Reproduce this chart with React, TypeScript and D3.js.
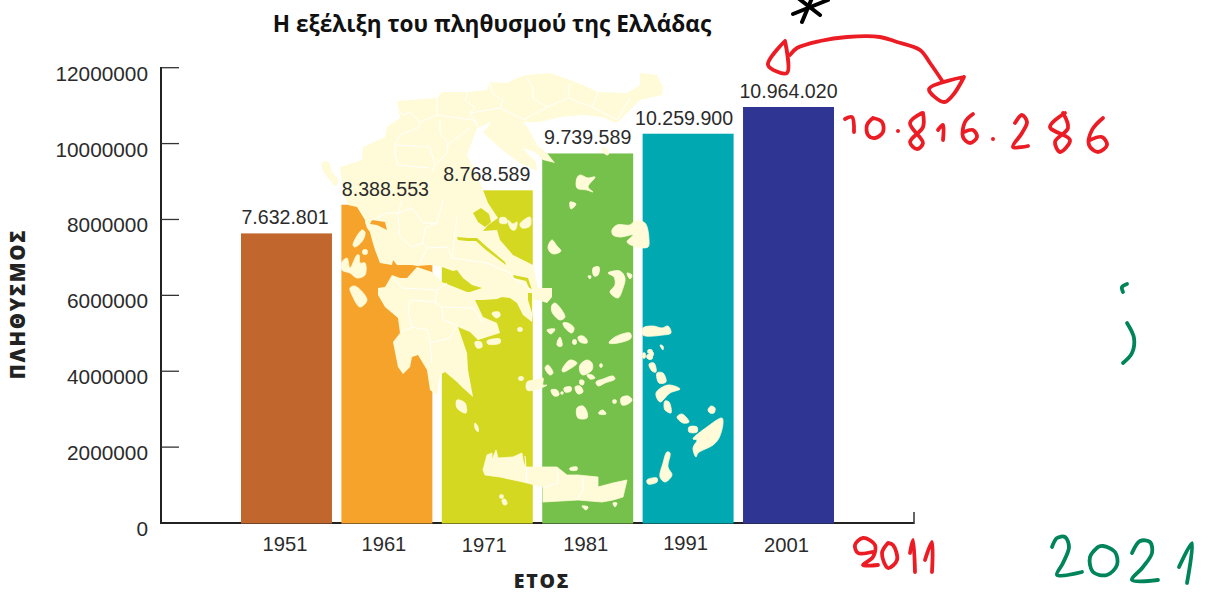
import React from "react";
import * as d3 from "d3";

type P = [number, number];

const years = ["1951", "1961", "1971", "1981", "1991", "2001"];
const population = [7632801, 8388553, 8768589, 9739589, 10259900, 10964020];
const valueLabels = ["7.632.801", "8.388.553", "8.768.589", "9.739.589", "10.259.900", "10.964.020"];
const barColors = ["#C1672E", "#F5A32A", "#D5D821", "#76C14B", "#00A9B1", "#2E3593"];
const yTicks = [0, 2000000, 4000000, 6000000, 8000000, 10000000, 12000000];
const yearLabelDy = [0, 0, 1, 0, -1, 1];
const yearLabelDx = [-1.5, -3, -3, -2, -2.5, -2];
const valueLabelDx = [-1.5, -1.5, -0.5, 0, -4, 0];

const mainland: P[] = [[340,167],[343,190],[348,205],[357,207],[365,220],[365,222],[367,228],[370,232],[372,240],[375,250],[380,263],[392,265],[393,260],[397,265],[412,265],[417,266],[430,265],[442,267],[453,271],[457,270],[463,278],[472,285],[482,288],[470,292],[467,293],[483,300],[497,299],[502,297],[510,298],[517,303],[523,315],[532,322],[534,300],[538,300],[547,303],[552,297],[552,288],[538,288],[537,283],[533,265],[513,255],[500,240],[497,230],[483,231],[488,225],[498,218],[488,203],[483,190],[480,182],[467,155],[477,128],[492,122],[483,132],[491,140],[505,152],[520,163],[537,171],[536,162],[527,153],[523,148],[535,152],[543,160],[555,163],[547,153],[537,145],[528,128],[523,122],[540,122],[560,117],[583,115],[603,117],[613,122],[618,122],[632,108],[640,100],[662,95],[663,87],[657,75],[640,73],[640,85],[627,93],[598,92],[583,85],[570,80],[550,73],[527,75],[517,78],[507,83],[490,82],[487,90],[467,92],[442,92],[437,98],[397,101],[400,118],[387,127],[385,137],[363,147],[362,160]];
const ambracianGulf: P[] = [[372,220],[385,222],[387,230],[377,225],[370,224]];
const pagaseticGulf: P[] = [[473,213],[481,208],[489,214],[491,222],[485,227],[478,222]];
const euboeaChannelNorth: P[] = [[457,237],[468,238],[477,238],[487,247],[505,262],[506,265],[486,250],[476,241],[467,241],[458,240]];
const euboeaChannelMiddle: P[] = [[513,275],[528,278],[532,290],[529,288],[526,281],[514,278]];
const euboeaChannelSouth: P[] = [[528,293],[532,293],[532,313],[528,300]];
const peloponnese: P[] = [[417,267],[432,272],[442,282],[457,288],[467,292],[480,292],[483,300],[475,300],[483,317],[497,323],[500,333],[478,340],[470,332],[458,327],[467,353],[468,370],[473,397],[463,388],[457,382],[445,372],[440,375],[437,395],[430,390],[427,370],[418,355],[412,357],[410,367],[403,374],[398,367],[393,342],[400,333],[398,318],[385,307],[378,295],[378,288],[385,287],[392,275],[400,278],[407,278]];
const crete: P[] = [[483,470],[487,455],[492,453],[492,460],[496,450],[498,458],[513,457],[522,453],[523,460],[525,467],[557,467],[567,475],[578,475],[598,477],[598,487],[613,483],[627,480],[623,497],[613,500],[602,502],[578,500],[543,502],[543,487],[523,482],[500,477],[485,475]];
const islands: P[][] = [
  [[322,163],[328,162],[332,172],[338,180],[336,186],[330,180],[324,172]],
  [[353,245],[362,230],[365,232],[363,240],[355,247]],
  [[363,250],[367,250],[367,254],[363,254]],
  [[342,262],[347,258],[350,268],[357,255],[359,255],[360,263],[365,263],[365,275],[357,278],[350,273],[342,270]],
  [[350,288],[355,286],[367,300],[360,307],[352,295]],
  [[500,218],[506,218],[507,223],[500,223]],
  [[508,220],[513,224],[517,222],[515,230],[511,229]],
  [[520,224],[530,217],[530,226],[522,228]],
  [[475,342],[481,342],[482,347],[477,348]],
  [[487,341],[500,339],[500,343],[488,344]],
  [[492,313],[499,312],[500,316],[496,318]],
  [[518,328],[522,328],[522,331],[518,331]],
  [[457,400],[465,403],[466,413],[457,408]],
  [[475,423],[478,427],[478,432],[475,428]],
  [[577,178],[580,175],[588,178],[595,177],[588,187],[593,192],[587,190],[577,188]],
  [[570,202],[576,204],[571,209]],
  [[612,230],[617,225],[630,225],[635,221],[645,223],[649,240],[648,247],[637,247],[627,242],[633,235],[620,237],[613,235]],
  [[548,247],[552,240],[557,246],[561,251],[554,254],[550,252]],
  [[593,268],[599,267],[598,275],[594,276]],
  [[588,276],[591,276],[590,279]],
  [[608,273],[620,271],[625,278],[623,288],[618,298],[610,292],[615,285],[614,277]],
  [[627,273],[632,275],[630,279]],
  [[552,305],[555,303],[565,317],[560,320],[552,312]],
  [[563,323],[568,323],[574,328],[572,333],[565,328]],
  [[547,330],[555,329],[551,334]],
  [[557,345],[560,337],[562,346]],
  [[573,340],[576,340],[576,344],[573,344]],
  [[578,337],[583,336],[587,340],[587,343],[580,342]],
  [[609,343],[615,337],[630,333],[631,338],[618,343]],
  [[643,328],[653,326],[662,328],[668,326],[671,333],[663,335],[643,335]],
  [[660,345],[663,346],[663,350]],
  [[650,352],[653,352],[653,356],[650,356]],
  [[648,355],[652,355],[652,359],[648,359]],
  [[558,340],[561,340],[561,346],[558,346]],
  [[519,377],[523,377],[523,380],[519,380]],
  [[527,382],[535,380],[543,378],[543,385],[547,385],[535,390],[527,390]],
  [[545,368],[548,365],[553,373],[550,375]],
  [[562,370],[570,360],[577,363],[568,370],[563,372]],
  [[580,365],[587,360],[592,363],[592,370],[583,375],[580,372]],
  [[600,364],[602,364],[602,367],[600,367]],
  [[587,375],[592,375],[595,378],[590,379]],
  [[596,382],[603,379],[613,376],[615,379],[605,383],[598,386]],
  [[580,380],[584,381],[583,385],[580,384]],
  [[575,387],[580,386],[583,392],[578,394]],
  [[564,388],[571,387],[571,391],[565,392]],
  [[551,390],[557,390],[559,395],[554,396]],
  [[561,392],[563,392],[563,394],[561,394]],
  [[613,400],[616,400],[616,403],[613,403]],
  [[621,398],[628,396],[632,400],[628,404],[622,405]],
  [[577,408],[583,406],[587,412],[587,418],[578,418]],
  [[599,412],[603,410],[606,414],[599,414]],
  [[500,495],[503,495],[503,498],[500,498]],
  [[502,500],[505,499],[507,504],[504,505]],
  [[570,468],[577,467],[577,470],[570,470]],
  [[582,506],[588,507],[586,510]],
  [[613,503],[617,503],[615,507]],
  [[643,353],[645,353],[645,358],[643,358]],
  [[648,350],[652,350],[652,353],[648,353]],
  [[647,355],[652,355],[652,358],[647,358]],
  [[649,364],[654,363],[656,372],[652,371]],
  [[657,373],[663,373],[666,382],[659,383]],
  [[656,393],[668,385],[680,389],[670,393],[660,402]],
  [[665,401],[669,402],[671,413],[665,410],[664,405]],
  [[677,417],[682,414],[689,422],[683,423]],
  [[711,406],[715,408],[714,413],[710,413],[708,410]],
  [[689,427],[697,427],[697,432],[689,432]],
  [[693,439],[707,427],[722,418],[723,423],[719,438],[713,445],[698,453],[696,457],[693,448],[697,440]],
  [[667,452],[670,453],[668,467],[672,475],[665,482],[660,477],[663,463]],
  [[647,480],[657,478],[657,482],[648,484]],
  [[602,147],[608,150],[608,155],[604,153]],
];
const prefectureBorders: P[][] = [
  [[437,98],[437,115],[420,122],[410,112],[403,115],[399,110]],
  [[420,122],[418,128],[400,135],[395,145],[430,147],[435,165],[432,172]],
  [[395,145],[395,155],[398,165],[430,168]],
  [[437,115],[473,120],[478,127]],
  [[440,120],[440,133],[448,142],[447,153],[435,165]],
  [[448,145],[470,128]],
  [[468,92],[465,100],[475,108],[470,113],[478,125]],
  [[490,83],[492,93],[503,100],[500,108],[525,120]],
  [[470,113],[500,108]],
  [[527,78],[533,88],[533,98],[547,107],[568,98],[570,83]],
  [[568,98],[592,107],[598,93]],
  [[592,107],[617,120]],
  [[617,120],[630,98]],
  [[547,107],[523,120]],
  [[372,220],[387,213],[398,213],[400,237],[412,247],[423,243],[425,228],[437,223],[443,200]],
  [[398,213],[412,208],[423,223],[437,223]],
  [[402,200],[398,213]],
  [[423,243],[427,248],[420,263]],
  [[427,248],[447,247],[452,258],[455,233],[457,217]],
  [[452,258],[487,263],[510,273],[513,278],[532,290]],
  [[402,288],[437,290],[447,283]],
  [[402,288],[392,277]],
  [[437,290],[435,302],[410,300],[408,312],[412,327],[400,332]],
  [[435,302],[442,307],[443,320],[457,325],[450,338],[430,343],[428,330],[412,327]],
  [[442,307],[473,308],[483,323]],
  [[430,343],[432,363]],
  [[525,456],[527,482]],
  [[557,468],[558,483],[543,488]],
  [[583,478],[583,490],[577,500]],
];

const redStrokes: P[][] = [
  [[790,55],[797,48],[820,41],[847,37],[880,37],[897,42],[920,50],[930,63],[943,82]],
  [[785,41],[768,65],[787,73],[785,41]],
  [[964,77],[929,89],[944,102],[953,95],[964,77]],
  [[845,119],[852,117],[854,132]],
  [[873,118],[867,125],[868,135],[875,138],[883,132],[882,122],[873,118]],
  [[922,113],[910,123],[923,143],[917,149],[910,142],[923,127],[923,113]],
  [[938,130],[943,125],[943,140]],
  [[973,114],[965,122],[963,137],[970,143],[977,137],[973,130],[964,132]],
  [[1015,123],[1022,115],[1027,122],[1022,133],[1013,147],[1028,146]],
  [[1065,113],[1050,127],[1070,140],[1060,152],[1055,142],[1068,128],[1063,113]],
  [[1103,118],[1092,130],[1089,145],[1098,152],[1107,145],[1102,137],[1090,140]],
  [[872,552],[858,553],[855,545],[863,538],[875,545],[873,557],[863,565],[878,565]],
  [[888,543],[882,553],[888,568],[897,560],[893,545],[888,543]],
  [[910,553],[913,540],[915,572]],
  [[925,560],[932,542],[932,572]],
];
const redDots: P[] = [[898,131],[993,139]];
const greenStrokes: P[][] = [
  [[1127,284],[1122,287],[1123,292]],
  [[1127,323],[1134,338],[1132,353],[1123,363]],
  [[1052,547],[1057,538],[1065,537],[1069,547],[1063,563],[1057,575],[1082,572]],
  [[1098,547],[1090,557],[1093,572],[1107,575],[1117,565],[1115,552],[1103,546],[1098,547]],
  [[1132,553],[1140,541],[1150,542],[1152,553],[1143,567],[1132,580],[1158,580]],
  [[1179,567],[1192,543],[1187,583]],
];
const asteriskStrokes: P[][] = [
  [[798,-2],[820,15]],
  [[828,0],[793,14]],
  [[812,-2],[802,22]],
];

const y = d3.scaleLinear().domain([0, 12000000]).range([523, 67.7]);
const x = d3.scaleBand<string>().domain(years).range([241, 834]).paddingInner(0.094).paddingOuter(0);
const poly = d3.line<P>().curve(d3.curveLinearClosed);
const blob = d3.line<P>().curve(d3.curveCatmullRomClosed.alpha(0.5));
const seg = d3.line<P>().curve(d3.curveLinear);
const hand = d3.line<P>().curve(d3.curveCatmullRom.alpha(0.5));

const SANS = "'Liberation Sans', Arial, sans-serif";
const CREAM = "#FFFBD8";

export default function App() {
  const mainD = [mainland, ambracianGulf, pagaseticGulf, euboeaChannelNorth, euboeaChannelMiddle, euboeaChannelSouth].map((p) => poly(p)).join("");
  return (
    <svg width={1207} height={594} style={{ position: "absolute", left: 0, top: 0, display: "block", background: "#fff" }}>
      <text x={492} y={32} textAnchor="middle" fontFamily="'Open Sans'" fontWeight={700} fontSize={22.6} fill="#111">
        Η εξέλιξη του πληθυσμού της Ελλάδας
      </text>

      <line x1={161} x2={161} y1={67} y2={524} stroke="#222" strokeWidth={2} />
      <line x1={160} x2={914} y1={523} y2={523} stroke="#222" strokeWidth={2} />
      <line x1={914} x2={914} y1={512} y2={524} stroke="#333" strokeWidth={1.5} />
      {yTicks.map((t) => (
        <g key={t}>
          {t > 0 && <line x1={161} x2={179} y1={y(t)} y2={y(t)} stroke="#333" strokeWidth={1.3} />}
          <text x={148} y={y(t) + 13} textAnchor="end" fontFamily={SANS} fontSize={20.8} fill="#2b2b2b">{t}</text>
        </g>
      ))}

      {years.map((yr, i) => (
        <rect key={yr} x={x(yr)} y={y(population[i])} width={x.bandwidth()} height={y(0) - y(population[i]) + 0.5} fill={barColors[i]} />
      ))}

      <path d={mainD} fill={CREAM} fillRule="evenodd" />
      <path d={poly(peloponnese)!} fill={CREAM} />
      <path d={poly(crete)!} fill={CREAM} stroke={CREAM} strokeWidth={0.8} strokeLinejoin="round" />
      {islands.map((p, i) => <path key={i} d={blob(p)!} fill={CREAM} stroke={CREAM} strokeWidth={0.8} strokeLinejoin="round" />)}
      {prefectureBorders.map((p, i) => <path key={i} d={seg(p)!} fill="none" stroke="#fff" strokeWidth={1} />)}

      {years.map((yr, i) => (
        <text key={yr} x={x(yr)! + x.bandwidth() / 2 + valueLabelDx[i]} y={y(population[i]) - 9} textAnchor="middle" fontFamily={SANS} fontSize={19.6} fill="#2b2b2b">
          {valueLabels[i]}
        </text>
      ))}
      {years.map((yr, i) => (
        <text key={yr} x={x(yr)! + x.bandwidth() / 2 + yearLabelDx[i]} y={551 + yearLabelDy[i]} textAnchor="middle" fontFamily={SANS} fontSize={20.2} fill="#2b2b2b">
          {yr}
        </text>
      ))}

      <text x={542} y={588} textAnchor="middle" fontFamily="'Open Sans'" fontWeight={800} fontSize={19.5} letterSpacing={1.8} fill="#222">ΕΤΟΣ</text>
      <text transform="translate(25,304) rotate(-90)" textAnchor="middle" fontFamily="'Open Sans'" fontWeight={800} fontSize={20.5} letterSpacing={1.6} fill="#222">ΠΛΗΘΥΣΜΟΣ</text>

      {redStrokes.map((p, i) => <path key={i} d={hand(p)!} fill="none" stroke="#EC1C24" strokeWidth={3.8} strokeLinecap="round" strokeLinejoin="round" />)}
      {redDots.map((p, i) => <circle key={i} cx={p[0]} cy={p[1]} r={2} fill="#EC1C24" />)}
      {greenStrokes.map((p, i) => <path key={i} d={hand(p)!} fill="none" stroke="#00845A" strokeWidth={3.8} strokeLinecap="round" strokeLinejoin="round" />)}
      {asteriskStrokes.map((p, i) => <path key={i} d={seg(p)!} fill="none" stroke="#000" strokeWidth={4} strokeLinecap="round" />)}
    </svg>
  );
}
